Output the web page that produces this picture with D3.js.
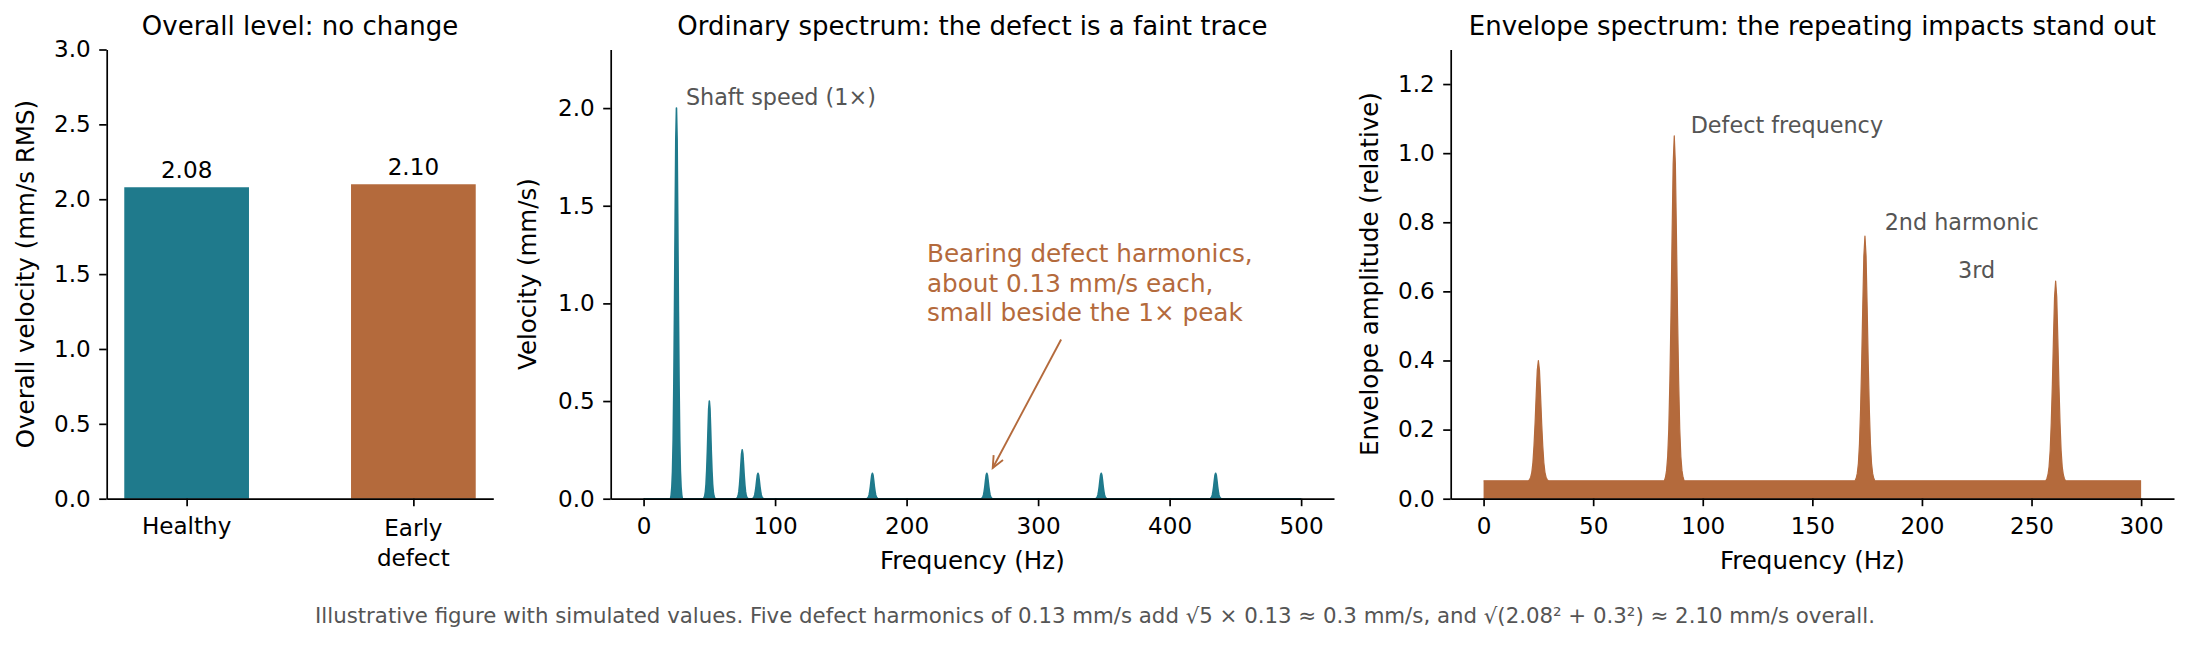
<!DOCTYPE html>
<html>
<head>
<meta charset="utf-8">
<script src="https://cdn.jsdelivr.net/npm/d3@7"></script>
<style>
  html, body { margin: 0; padding: 0; background: #ffffff; }
  svg { display: block; }
  text { font-family: "DejaVu Sans", sans-serif; }
</style>
</head>
<body>
<svg id="chart" width="2190" height="648"></svg>
<script>
// ---------------- data ----------------
const barCategories = ["Healthy", "Early\ndefect"];
const barValues = [2.08, 2.10];
const barLabels = ["2.08", "2.10"];

const spectrumPeakFreqs = [25, 50, 75, 87, 174, 261, 348, 435];
const spectrumPeakAmps  = [2.0, 0.5, 0.25, 0.13, 0.13, 0.13, 0.13, 0.13];
const spectrumRange = [0, 500];

const envelopePeakFreqs = [25, 87, 174, 261];
const envelopePeakAmps  = [0.40, 1.05, 0.76, 0.63];
const envelopeFloor = 0.052;
const envelopeRange = [0, 300];

// peak profile: offset (Hz) and fraction of peak height
const peakShapeOffsets = [-4.5, -4, -3.5, -3, -2.5, -2, -1.5, -1, -0.5, 0, 0.5, 1, 1.5, 2, 2.5, 3, 3.5, 4, 4.5];
const peakShapeLevels  = [0, 0.01, 0.03, 0.07, 0.15, 0.29, 0.48, 0.71, 0.92, 1, 0.92, 0.71, 0.48, 0.29, 0.15, 0.07, 0.03, 0.01, 0];

const barYTicks = [0, 0.5, 1.0, 1.5, 2.0, 2.5, 3.0];
const spectrumXTicks = [0, 100, 200, 300, 400, 500];
const spectrumYTicks = [0, 0.5, 1.0, 1.5, 2.0];
const envelopeXTicks = [0, 50, 100, 150, 200, 250, 300];
const envelopeYTicks = [0, 0.2, 0.4, 0.6, 0.8, 1.0, 1.2];

const titles = [
  "Overall level: no change",
  "Ordinary spectrum: the defect is a faint trace",
  "Envelope spectrum: the repeating impacts stand out"
];
const yLabels = ["Overall velocity (mm/s RMS)", "Velocity (mm/s)", "Envelope amplitude (relative)"];
const xLabel = "Frequency (Hz)";
const shaftLabel = "Shaft speed (1×)";
const defectNoteLines = ["Bearing defect harmonics,", "about 0.13 mm/s each,", "small beside the 1× peak"];
const envelopeLabels = ["Defect frequency", "2nd harmonic", "3rd"];
const envelopeLabelPos = [[94.5, 1.057], [183, 0.778], [216.5, 0.638]];
const footer = "Illustrative figure with simulated values. Five defect harmonics of 0.13 mm/s add √5 × 0.13 ≈ 0.3 mm/s, and √(2.08² + 0.3²) ≈ 2.10 mm/s overall.";

// ---------------- style ----------------
const TEAL = "#1f7a8c";
const ORANGE = "#b46a3c";
const GRAY = "#555555";
const TICK_FS = 23.1;
const LABEL_FS = 24.5;
const TITLE_FS = 26;
const NOTE_FS = 22.3;
const ORANGE_FS = 24.7;
const FOOT_FS = 21.3;

const svg = d3.select("#chart");
svg.append("rect").attr("width", 2190).attr("height", 648).attr("fill", "#fff");

const plotTop = 49.5, plotBottom = 498.7;
const panels = [
  { left: 106.7, right: 493.3 },
  { left: 610.7, right: 1334 },
  { left: 1450.7, right: 2174 }
];

function styleAxis(g) {
  g.selectAll(".domain").attr("stroke", "#000").attr("stroke-width", 1.7);
  g.selectAll(".tick line").attr("stroke", "#000").attr("stroke-width", 1.7);
  g.selectAll(".tick text").attr("font-size", TICK_FS).attr("fill", "#000")
    .attr("font-family", "DejaVu Sans");
}

function drawAxes(x, y, xTicks, xFmt, yTicks, yFmt) {
  const gx = svg.append("g").attr("transform", `translate(0,${plotBottom})`)
    .call(d3.axisBottom(x).tickValues(xTicks).tickFormat(xFmt).tickSize(7.5).tickSizeOuter(0).tickPadding(11));
  const gy = svg.append("g").attr("transform", `translate(${x.range()[0]},0)`)
    .call(d3.axisLeft(y).tickValues(yTicks).tickFormat(yFmt).tickSize(7.5).tickSizeOuter(0).tickPadding(8.5));
  styleAxis(gx); styleAxis(gy);
  return [gx, gy];
}

function addTitle(i) {
  const p = panels[i];
  svg.append("text").attr("x", (p.left + p.right) / 2).attr("y", 35)
    .attr("text-anchor", "middle").attr("font-size", TITLE_FS).attr("fill", "#000")
    .text(titles[i]);
}
function addYLabel(i, xpos) {
  svg.append("text").attr("transform", `translate(${xpos},${(plotTop + plotBottom) / 2}) rotate(-90)`)
    .attr("text-anchor", "middle").attr("font-size", LABEL_FS).attr("fill", "#000")
    .text(yLabels[i]);
}
function addXLabel(i) {
  const p = panels[i];
  svg.append("text").attr("x", (p.left + p.right) / 2).attr("y", 569)
    .attr("text-anchor", "middle").attr("font-size", LABEL_FS).attr("fill", "#000")
    .text(xLabel);
}

function peakCurve(freqs, amps, base, range) {
  const pts = [[range[0], base]];
  freqs.forEach((f, i) => {
    peakShapeOffsets.forEach((o, j) => {
      pts.push([f + o, base + (amps[i] - base) * peakShapeLevels[j]]);
    });
  });
  pts.push([range[1], base]);
  return pts;
}

// ---------------- panel 1: bars ----------------
{
  const p = panels[0];
  const x = d3.scaleLinear().domain([-0.3525, 1.3525]).range([p.left, p.right]);
  const y = d3.scaleLinear().domain([0, 3.0]).range([plotBottom, plotTop]);
  const bw = 0.55;
  svg.append("g").selectAll("rect").data(barValues).join("rect")
    .attr("x", (d, i) => x(i - bw / 2))
    .attr("width", (d, i) => x(i + bw / 2) - x(i - bw / 2))
    .attr("y", d => y(d))
    .attr("height", d => y(0) - y(d))
    .attr("fill", (d, i) => i === 0 ? TEAL : ORANGE);
  svg.append("g").selectAll("text").data(barValues).join("text")
    .attr("x", (d, i) => x(i))
    .attr("y", d => y(d) - 9)
    .attr("text-anchor", "middle").attr("font-size", TICK_FS).attr("fill", "#000")
    .text((d, i) => barLabels[i]);
  const [gx] = drawAxes(x, y, [0, 1], () => "", barYTicks, d3.format(".1f"));
  gx.selectAll(".tick text").remove();
  barCategories.forEach((c, i) => {
    const lines = c.split("\n");
    const t = svg.append("text").attr("x", x(i)).attr("text-anchor", "middle")
      .attr("font-size", TICK_FS).attr("fill", "#000");
    lines.forEach((ln, k) => {
      t.append("tspan").attr("x", x(i))
        .attr("y", (lines.length > 1 ? 536.4 : 533.6) + k * 29.5)
        .text(ln);
    });
  });
  addTitle(0);
  addYLabel(0, 33.5);
}

// ---------------- panel 2: ordinary spectrum ----------------
{
  const p = panels[1];
  const x = d3.scaleLinear().domain([-25, 525]).range([p.left, p.right]);
  const y = d3.scaleLinear().domain([0, 2.3]).range([plotBottom, plotTop]);
  const pts = peakCurve(spectrumPeakFreqs, spectrumPeakAmps, 0, spectrumRange);
  svg.append("path").datum(pts)
    .attr("d", d3.area().x(d => x(d[0])).y0(y(0)).y1(d => y(d[1])))
    .attr("fill", TEAL);
  svg.append("path").datum(pts)
    .attr("d", d3.line().x(d => x(d[0])).y(d => y(d[1])))
    .attr("fill", "none").attr("stroke", TEAL).attr("stroke-width", 1.6).attr("stroke-linejoin", "round");
  drawAxes(x, y, spectrumXTicks, d3.format("d"), spectrumYTicks, d3.format(".1f"));
  addTitle(1);
  addYLabel(1, 535.5);
  addXLabel(1);

  svg.append("text").attr("x", x(32.2)).attr("y", y(2.018))
    .attr("font-size", NOTE_FS).attr("fill", GRAY).text(shaftLabel);

  const note = svg.append("text").attr("font-size", ORANGE_FS).attr("fill", ORANGE);
  defectNoteLines.forEach((ln, k) => {
    note.append("tspan").attr("x", x(215.5)).attr("y", 262 + k * 29.7).text(ln);
  });
  // arrow
  const x1 = x(317.5), y1 = y(0.815), x2 = x(265.5), y2 = y(0.157);
  svg.append("line").attr("x1", x1).attr("y1", y1).attr("x2", x2).attr("y2", y2)
    .attr("stroke", ORANGE).attr("stroke-width", 1.9);
  const ang = Math.atan2(y2 - y1, x2 - x1);
  const hl = 13, hw = 0.42;
  const head = [
    [x2 - hl * Math.cos(ang - hw), y2 - hl * Math.sin(ang - hw)],
    [x2, y2],
    [x2 - hl * Math.cos(ang + hw), y2 - hl * Math.sin(ang + hw)]
  ];
  svg.append("path").attr("d", d3.line()(head)).attr("fill", "none")
    .attr("stroke", ORANGE).attr("stroke-width", 1.9);
}

// ---------------- panel 3: envelope spectrum ----------------
{
  const p = panels[2];
  const x = d3.scaleLinear().domain([-15, 315]).range([p.left, p.right]);
  const y = d3.scaleLinear().domain([0, 1.3]).range([plotBottom, plotTop]);
  const pts = peakCurve(envelopePeakFreqs, envelopePeakAmps, envelopeFloor, envelopeRange);
  svg.append("path").datum(pts)
    .attr("d", d3.area().x(d => x(d[0])).y0(y(0)).y1(d => y(d[1])))
    .attr("fill", ORANGE);
  svg.append("path").datum(pts)
    .attr("d", d3.line().x(d => x(d[0])).y(d => y(d[1])))
    .attr("fill", "none").attr("stroke", ORANGE).attr("stroke-width", 1.2).attr("stroke-linejoin", "round");
  drawAxes(x, y, envelopeXTicks, d3.format("d"), envelopeYTicks, d3.format(".1f"));
  addTitle(2);
  addYLabel(2, 1378);
  addXLabel(2);
  envelopeLabels.forEach((t, i) => {
    svg.append("text").attr("x", x(envelopeLabelPos[i][0])).attr("y", y(envelopeLabelPos[i][1]))
      .attr("font-size", NOTE_FS).attr("fill", GRAY).text(t);
  });
}

// footer
svg.append("text").attr("x", 1095).attr("y", 623).attr("text-anchor", "middle")
  .attr("font-size", FOOT_FS).attr("fill", GRAY).text(footer);
</script>
</body>
</html>
